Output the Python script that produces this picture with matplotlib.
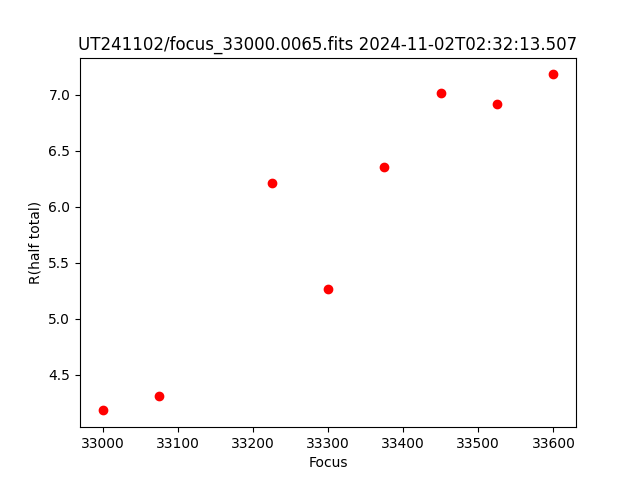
import matplotlib
matplotlib.use("Agg")
import matplotlib.pyplot as plt

focus = [33000, 33075, 33225, 33300, 33375, 33450, 33525, 33600]
r_half = [4.18, 4.31, 6.21, 5.26, 6.35, 7.01, 6.92, 7.18]

fig, ax = plt.subplots(figsize=(6.4, 4.8), dpi=100)
ax.plot(focus, r_half, 'ro')
ax.set_xlabel('Focus')
ax.set_ylabel('R(half total)')
ax.set_title('UT241102/focus_33000.0065.fits 2024-11-02T02:32:13.507')
fig.savefig('out.png')
